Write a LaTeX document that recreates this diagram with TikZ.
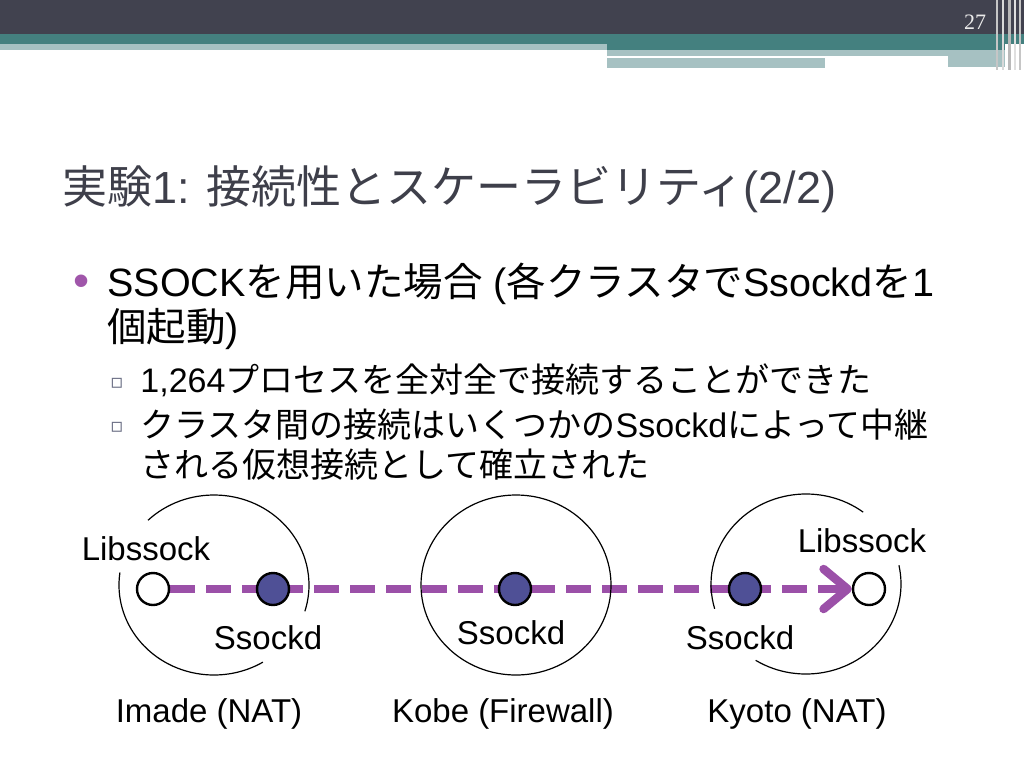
\documentclass[tikz,border=0pt]{standalone}
\usepackage{fontspec}
\setmainfont{Noto Sans CJK JP}
\newfontfamily\lat{Liberation Sans}
\newfontfamily\numfont{Liberation Serif}
\newfontfamily\symfont{DejaVu Sans}
\usetikzlibrary{arrows.meta,backgrounds}
\definecolor{hdark}{HTML}{41424F}
\definecolor{hteal}{HTML}{44807F}
\definecolor{hpale}{HTML}{A6C1C2}
\definecolor{ttlgray}{HTML}{3E3F4A}
\definecolor{bulpurple}{HTML}{A056AA}
\definecolor{subgray}{HTML}{6B6F85}
\definecolor{sockblue}{HTML}{4F5096}
\definecolor{relay}{HTML}{9B50A8}

\begin{document}
\begin{tikzpicture}[x=1pt, y=-1pt, thick,
  main node/.style={circle,draw,line width=2.4pt,minimum size=32pt,inner sep=0pt},
  ssockd node/.style={main node,fill=sockblue},
  libssock node/.style={main node,fill=white},
  label node/.style={font=\lat\fontsize{33}{38}\selectfont,anchor=base,inner sep=0pt},
  body line/.style={font=\fontsize{39.5}{46}\selectfont,anchor=base west,inner sep=0pt},
  sub line/.style={font=\fontsize{34}{40}\selectfont,anchor=base west,inner sep=0pt}]
\useasboundingbox (0,0) rectangle (1024,768);
% header bars
\fill[hdark] (0,0) rectangle (1024,34);
\fill[hteal] (0,34) rectangle (1024,44);
\fill[hpale] (0,44) rectangle (607,50);
\fill[hteal] (607,44) rectangle (1005,50);
\fill[hpale] (607,50) rectangle (1005,56);
\fill[hpale] (607,58) rectangle (825,68);
\fill[hpale] (948,56) rectangle (1005,67);
\fill[gray!45] (996,0) rectangle (998,70);
\fill[gray!30] (1002,0) rectangle (1004,70);
\fill[gray!55] (1008,0) rectangle (1011,70);
\fill[gray!25] (1014,0) rectangle (1016,70);
\fill[gray!45] (1019,0) rectangle (1021,70);
\node[font=\numfont\fontsize{22}{26}\selectfont,text=white!92!black,anchor=base,inner sep=0pt](page) at (975,30){27};
% title and bullets
\node[font=\fontsize{45}{52}\selectfont,text=ttlgray,anchor=base west,inner sep=0pt](title) at (62,203)
  {実験{\lat 1: }接続性とスケーラビリティ{\lat (2/2)}};
\node[font=\lat\fontsize{46}{50}\selectfont,text=bulpurple,anchor=base,inner sep=0pt](b1) at (82,296){•};
\node[body line](t1) at (107,296){{\lat SSOCK}を用いた場合{\lat\ (}各クラスタで{\lat Ssockd}を{\lat 1}};
\node[body line](t2) at (107,341){個起動{\lat )}};
\node[font=\symfont\fontsize{20}{24}\selectfont,text=subgray,anchor=base,inner sep=0pt](b2) at (117,388){▫};
\node[sub line](s1) at (140,392){{\lat 1,264}プロセスを全対全で接続することができた};
\node[font=\symfont\fontsize{20}{24}\selectfont,text=subgray,anchor=base,inner sep=0pt](b3) at (117,432){▫};
\node[sub line](s2) at (140,437){クラスタ間の接続はいくつかの{\lat Ssockd}によって中継};
\node[sub line](s3) at (140,477){される仮想接続として確立された};
% clusters
\draw[line width=1.2pt] (214,585) ++(-134:95 and 90) arc[start angle=-134,end angle=17,x radius=95,y radius=90];
\draw[line width=1.2pt] (214,585) ++(-172:95 and 90) arc[start angle=-172,end angle=-301,x radius=95,y radius=90];
\draw[line width=1.2pt] (516,585) ellipse [x radius=95,y radius=90];
\draw[line width=1.2pt] (806,584) ++(-53:95 and 90) arc[start angle=-53,end angle=-196,x radius=95,y radius=90];
\draw[line width=1.2pt] (806,584) ++(-238:95 and 90) arc[start angle=-238,end angle=-372,x radius=95,y radius=90];
% processes
\node[libssock node](0) at (153,589){};
\node[ssockd node](1) at (273,589){};
\node[ssockd node](2) at (515,589){};
\node[ssockd node](3) at (745,589){};
\node[libssock node](4) at (869,589){};
\begin{pgfonlayer}{background}
\draw[relay,line width=8.5pt,dash pattern=on 25pt off 11pt,
  -{Straight Barb[length=24pt,width=40pt,round]}](0)to(4);
\end{pgfonlayer}
% labels
\node[label node](lib0) at (146,560){Libssock};
\node[label node](sd1) at (268,649){Ssockd};
\node[label node](sd2) at (511,644){Ssockd};
\node[label node](sd3) at (740,649){Ssockd};
\node[label node](lib4) at (862,552){Libssock};
\node[label node](imade) at (209,722){Imade (NAT)};
\node[label node](kobe) at (503,722){Kobe (Firewall)};
\node[label node](kyoto) at (797,722){Kyoto (NAT)};
\end{tikzpicture}
\end{document}
